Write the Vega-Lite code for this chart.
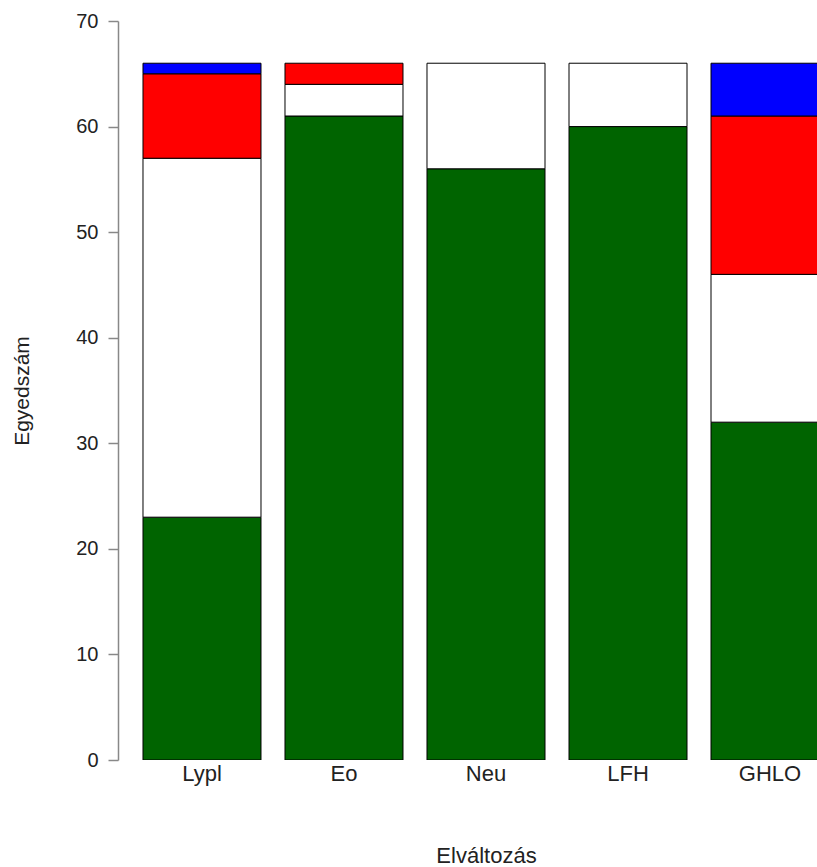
{
  "$schema": "https://vega.github.io/schema/vega-lite/v6.json",
  "width": 699,
  "height": 739,
  "autosize": {"type": "none"},
  "padding": {"left": 118, "top": 21, "right": 0, "bottom": 107},
  "background": "white",
  "config": {"view": {"stroke": null}, "font": "Liberation Sans"},
  "data": {
    "values": [
      {"cat": "Lypl", "k": "g", "o": 1, "n": 23},
      {"cat": "Lypl", "k": "w", "o": 2, "n": 34},
      {"cat": "Lypl", "k": "r", "o": 3, "n": 8},
      {"cat": "Lypl", "k": "b", "o": 4, "n": 1},
      {"cat": "Eo", "k": "g", "o": 1, "n": 61},
      {"cat": "Eo", "k": "w", "o": 2, "n": 3},
      {"cat": "Eo", "k": "r", "o": 3, "n": 2},
      {"cat": "Neu", "k": "g", "o": 1, "n": 56},
      {"cat": "Neu", "k": "w", "o": 2, "n": 10},
      {"cat": "LFH", "k": "g", "o": 1, "n": 60},
      {"cat": "LFH", "k": "w", "o": 2, "n": 6},
      {"cat": "GHLO", "k": "g", "o": 1, "n": 32},
      {"cat": "GHLO", "k": "w", "o": 2, "n": 14},
      {"cat": "GHLO", "k": "r", "o": 3, "n": 15},
      {"cat": "GHLO", "k": "b", "o": 4, "n": 5}
    ]
  },
  "mark": {"type": "bar", "stroke": "black", "strokeWidth": 1, "clip": true},
  "encoding": {
    "x": {
      "field": "cat",
      "type": "nominal",
      "sort": ["Lypl", "Eo", "Neu", "LFH", "GHLO"],
      "scale": {"range": [0, 736], "paddingInner": 0.169, "paddingOuter": 0.176},
      "axis": {
        "title": "Elváltozás",
        "domain": false,
        "ticks": false,
        "labelAngle": 0,
        "labelFontSize": 22,
        "labelColor": "#222",
        "labelPadding": 3,
        "titleFontSize": 22,
        "titleFontWeight": "normal",
        "titleColor": "#222",
        "titleY": 95,
        "titleBaseline": "middle"
      }
    },
    "y": {
      "field": "n",
      "type": "quantitative",
      "stack": "zero",
      "scale": {"domain": [0, 70], "nice": false},
      "axis": {
        "title": "Egyedszám",
        "values": [0, 10, 20, 30, 40, 50, 60, 70],
        "grid": false,
        "domainColor": "#888",
        "domainWidth": 1.5,
        "tickColor": "#888",
        "tickWidth": 1.5,
        "tickSize": 10,
        "labelFontSize": 20,
        "labelColor": "#222",
        "labelPadding": 10,
        "titleFontSize": 21,
        "titleFontWeight": "normal",
        "titleColor": "#222",
        "titleX": -96,
        "titleBaseline": "middle"
      }
    },
    "color": {
      "field": "k",
      "type": "nominal",
      "scale": {"domain": ["g", "w", "r", "b"], "range": ["#006400", "#FFFFFF", "#FF0000", "#0000FF"]},
      "legend": null
    },
    "order": {"field": "o", "type": "quantitative"}
  }
}
